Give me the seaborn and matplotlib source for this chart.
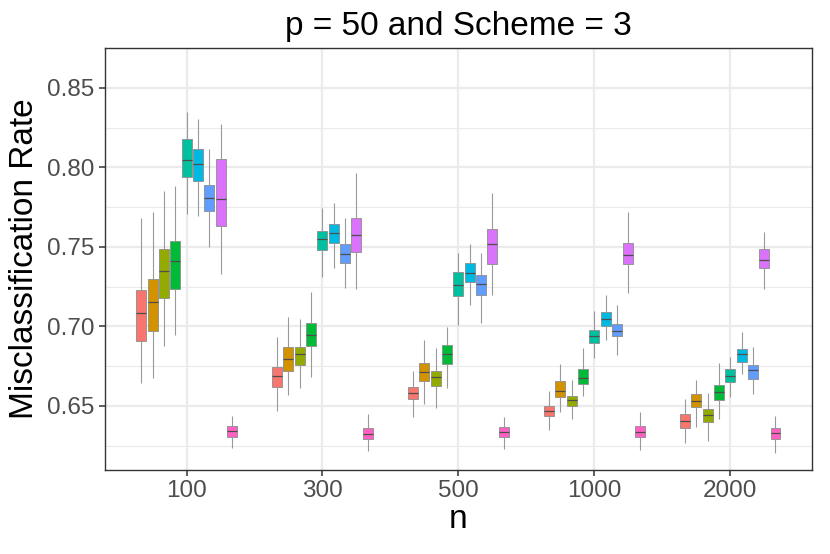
import numpy as np
import pandas as pd
import seaborn as sns
import matplotlib.pyplot as plt
from matplotlib.ticker import MultipleLocator

# five-number summary of each box: whisker low, q1, median, q3, whisker high
n_levels = ['100', '300', '500', '1000', '2000']
methods = ['M1', 'M2', 'M3', 'M4', 'M5', 'M6', 'M7', 'M8', 'M9']
colors = ['#F8766D', '#D39200', '#93AA00', '#00BA38', '#00C19F',
          '#00B9E3', '#619CFF', '#DB72FB', '#FF61C3']

n100 = [(0.6647, 0.6911, 0.7083, 0.7230, 0.7684),
        (0.6678, 0.6972, 0.7152, 0.7295, 0.7718),
        (0.6877, 0.7181, 0.7347, 0.7487, 0.7854),
        (0.6944, 0.7238, 0.7410, 0.7538, 0.7884),
        (0.7705, 0.7938, 0.8043, 0.8175, 0.8345),
        (0.7693, 0.7913, 0.8022, 0.8118, 0.8305),
        (0.7500, 0.7726, 0.7810, 0.7888, 0.8116),
        (0.7332, 0.7628, 0.7802, 0.8049, 0.8274),
        (0.6234, 0.6307, 0.6341, 0.6376, 0.6437)]
n300 = [(0.6470, 0.6618, 0.6687, 0.6747, 0.6936),
        (0.6567, 0.6722, 0.6797, 0.6871, 0.7060),
        (0.6615, 0.6756, 0.6827, 0.6873, 0.7047),
        (0.6684, 0.6879, 0.6947, 0.7022, 0.7217),
        (0.7313, 0.7483, 0.7552, 0.7599, 0.7741),
        (0.7366, 0.7521, 0.7586, 0.7643, 0.7777),
        (0.7244, 0.7399, 0.7456, 0.7519, 0.7682),
        (0.7234, 0.7466, 0.7573, 0.7680, 0.7961),
        (0.6219, 0.6290, 0.6324, 0.6362, 0.6450)]
n500 = [(0.6433, 0.6546, 0.6582, 0.6619, 0.6720),
        (0.6510, 0.6655, 0.6710, 0.6768, 0.6913),
        (0.6487, 0.6624, 0.6680, 0.6720, 0.6865),
        (0.6613, 0.6766, 0.6825, 0.6886, 0.6999),
        (0.7011, 0.7190, 0.7263, 0.7343, 0.7460),
        (0.7133, 0.7276, 0.7334, 0.7399, 0.7515),
        (0.7024, 0.7196, 0.7269, 0.7324, 0.7460),
        (0.7200, 0.7391, 0.7519, 0.7615, 0.7838),
        (0.6228, 0.6305, 0.6338, 0.6366, 0.6433)]
n1000 = [(0.6349, 0.6439, 0.6470, 0.6500, 0.6594),
         (0.6462, 0.6558, 0.6592, 0.6659, 0.6762),
         (0.6420, 0.6502, 0.6536, 0.6565, 0.6664),
         (0.6563, 0.6638, 0.6678, 0.6735, 0.6865),
         (0.6804, 0.6898, 0.6940, 0.6980, 0.7096),
         (0.6917, 0.7001, 0.7047, 0.7091, 0.7200),
         (0.6819, 0.6938, 0.6970, 0.7016, 0.7133),
         (0.7209, 0.7389, 0.7450, 0.7521, 0.7718),
         (0.6223, 0.6303, 0.6336, 0.6372, 0.6462)]
n2000 = [(0.6265, 0.6364, 0.6406, 0.6450, 0.6544),
         (0.6370, 0.6492, 0.6529, 0.6575, 0.6665),
         (0.6278, 0.6399, 0.6445, 0.6483, 0.6580),
         (0.6416, 0.6540, 0.6586, 0.6632, 0.6768),
         (0.6558, 0.6649, 0.6689, 0.6733, 0.6808),
         (0.6703, 0.6775, 0.6825, 0.6857, 0.6965),
         (0.6574, 0.6672, 0.6725, 0.6756, 0.6871),
         (0.7238, 0.7366, 0.7418, 0.7489, 0.7594),
         (0.6206, 0.6290, 0.6332, 0.6360, 0.6437)]

rows = []
for n, boxes in zip(n_levels, [n100, n300, n500, n1000, n2000]):
    for m, stats in zip(methods, boxes):
        for v in stats:
            rows.append({'n': n, 'method': m, 'rate': v})
df = pd.DataFrame(rows)

sns.set_style('white')
plt.rcParams['font.family'] = ['Liberation Sans', 'DejaVu Sans']

fig = plt.figure(figsize=(8.3, 5.54), dpi=100)
ax = fig.add_axes([0.1265, 0.1516, 0.8515, 0.7618])

sns.boxplot(data=df, x='n', y='rate', hue='method', order=n_levels,
            hue_order=methods, palette=colors, width=0.75, gap=0.12,
            whis=(0, 100), linewidth=0.6, linecolor='0.55', saturation=1,
            showcaps=False, legend=False, ax=ax,
            medianprops={'color': '0.3', 'linewidth': 0.9},
            whiskerprops={'color': '0.6', 'linewidth': 0.8})

ax.set_xlim(-0.6, 4.6)
ax.set_ylim(0.6097, 0.875)
ax.yaxis.set_major_locator(MultipleLocator(0.05))
ax.yaxis.set_minor_locator(MultipleLocator(0.025))
ax.set_axisbelow(True)
ax.grid(True, which='major', color='#EBEBEB', linewidth=1.6)
ax.grid(True, which='minor', axis='y', color='#EBEBEB', linewidth=0.8)
ax.yaxis.set_major_formatter(plt.FuncFormatter(lambda v, p: f'{v:.2f}'))

for s in ax.spines.values():
    s.set_color('#333333')
    s.set_linewidth(1.0)
ax.tick_params(axis='both', which='major', direction='out', length=4.5,
               width=1.1, color='#333333', labelsize=17.5, labelcolor='#4D4D4D',
               left=True, bottom=True, pad=3)
ax.tick_params(axis='y', which='minor', length=0)

ax.set_xlabel('n', fontsize=24, color='black', labelpad=1)
ax.set_ylabel('Misclassification Rate', fontsize=24, color='black', labelpad=5)
ax.set_title('p = 50 and Scheme = 3', fontsize=24, color='black', pad=9)

fig.savefig('out.png', dpi=100)
